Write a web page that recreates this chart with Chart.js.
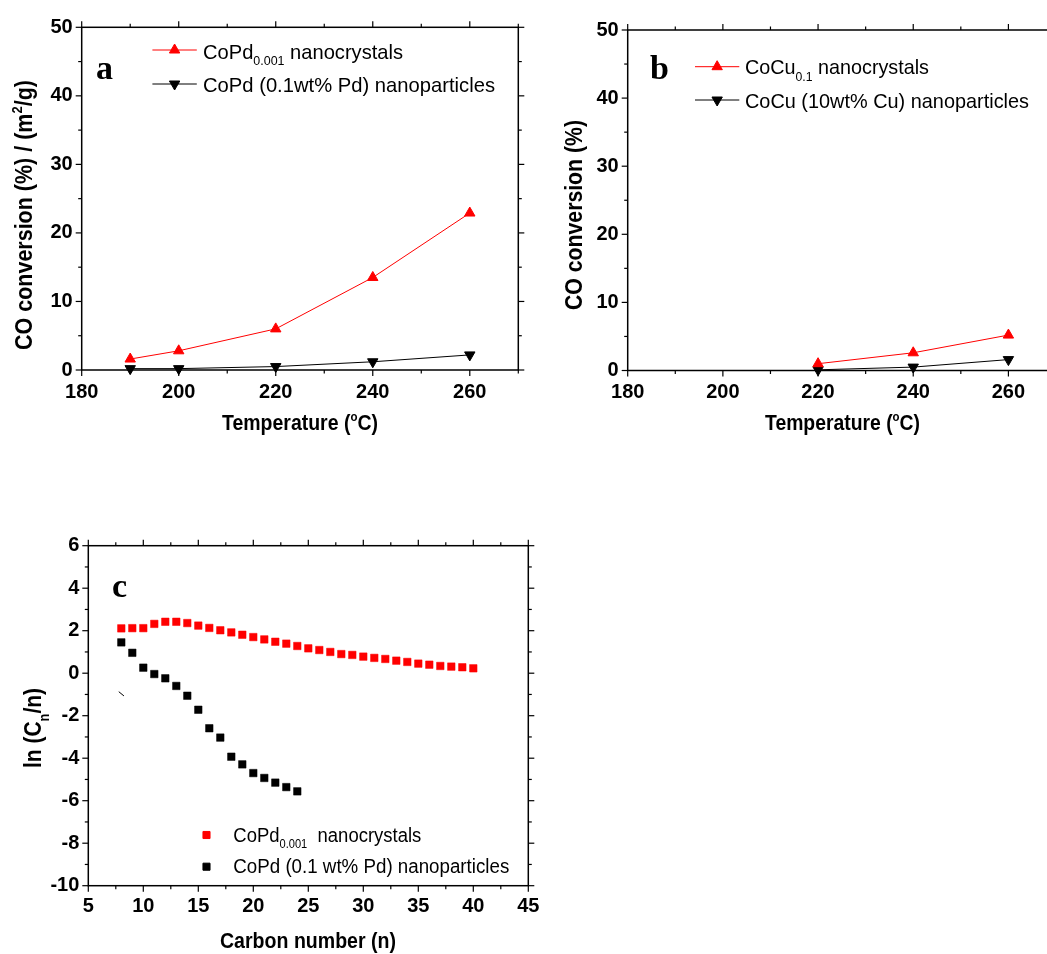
<!DOCTYPE html>
<html>
<head>
<meta charset="utf-8">
<script src="https://cdn.jsdelivr.net/npm/chart.js@4.4.1/dist/chart.umd.min.js"></script>
<style>
  html, body { margin: 0; padding: 0; background: #fff; }
  body { width: 1047px; height: 954px; position: relative; overflow: hidden; }
  canvas { position: absolute; }
  #chartA { left: 0; top: 0; }
  #chartB { left: 540px; top: 0; }
  #chartC { left: 0; top: 500px; }
</style>
</head>
<body>
<canvas id="chartA" width="540" height="450"></canvas>
<canvas id="chartB" width="530" height="450"></canvas>
<canvas id="chartC" width="560" height="454"></canvas>
<script>
// panel a - CoPd, CO conversion per surface area
const tempA = [190, 200, 220, 240, 260];
const copdNanocrystals = [1.6, 2.8, 6.0, 13.5, 22.9];
const copdNanoparticles = [0.2, 0.2, 0.5, 1.2, 2.2];

// panel b - CoCu, CO conversion
const tempB = [220, 240, 260];
const cocuNanocrystals = [1.0, 2.6, 5.2];
const cocuNanoparticles = [0.1, 0.5, 1.6];

// panel c - ASF plot ln(Cn/n) vs carbon number
const carbonNano = [8, 9, 10, 11, 12, 13, 14, 15, 16, 17, 18, 19, 20, 21, 22, 23, 24,
                    25, 26, 27, 28, 29, 30, 31, 32, 33, 34, 35, 36, 37, 38, 39, 40];
const lnNano = [2.11, 2.12, 2.12, 2.32, 2.42, 2.42, 2.36, 2.24, 2.13, 2.02, 1.92, 1.81, 1.70, 1.59, 1.48, 1.39, 1.28,
                1.17, 1.09, 1.00, 0.90, 0.86, 0.78, 0.72, 0.67, 0.59, 0.53, 0.45, 0.40, 0.34, 0.31, 0.28, 0.23];
const carbonPart = [8, 9, 10, 11, 12, 13, 14, 15, 16, 17, 18, 19, 20, 21, 22, 23, 24];
const lnPart = [1.45, 0.96, 0.26, -0.04, -0.24, -0.60, -1.06, -1.72, -2.59, -3.03, -3.93, -4.29, -4.70, -4.93, -5.15, -5.36, -5.56];
// little stray stroke left of the data in panel c
const strayX = [7.77, 8.24];
const strayY = [-0.87, -1.07];

// tick labels
const tempTicks = [180, 200, 220, 240, 260];
const tempMinor = [190, 210, 230, 250, 270];
const convTicks = [0, 10, 20, 30, 40, 50];
const convMinor = [5, 15, 25, 35, 45];
const carbonTicks = [5, 10, 15, 20, 25, 30, 35, 40, 45];
const carbonMinor = [7.5, 12.5, 17.5, 22.5, 27.5, 32.5, 37.5, 42.5];
const lnTicks = [-10, -8, -6, -4, -2, 0, 2, 4, 6];
const lnMinor = [-9, -7, -5, -3, -1, 1, 3, 5];

const SANS = '"Liberation Sans", Arial, sans-serif';
const SERIF = '"Liberation Serif", "Times New Roman", serif';
const RED = '#ff0000';

const toXY = (xs, ys) => xs.map((x, i) => ({ x: x, y: ys[i] }));

// draws text made of parts [text, 0 normal | 1 sub | 2 sup]
function drawRich(ctx, parts, o) {
  ctx.save();
  ctx.translate(o.x, o.y);
  if (o.rotate) ctx.rotate(o.rotate);
  const fontOf = p => `${o.weight || 'normal'} ${p[1] ? Math.round(o.size * 0.6) : o.size}px ${o.family || SANS}`;
  let total = 0;
  const widths = parts.map(p => {
    ctx.font = fontOf(p);
    const w = ctx.measureText(p[0]).width;
    total += w;
    return w;
  });
  const sx = o.width ? o.width / total : 1;
  ctx.scale(sx, 1);
  let cx = o.align === 'center' ? -total / 2 : 0;
  ctx.fillStyle = '#000';
  ctx.textBaseline = 'alphabetic';
  ctx.textAlign = 'left';
  parts.forEach((p, i) => {
    ctx.font = fontOf(p);
    const dy = p[1] === 1 ? o.size * 0.33 : (p[1] === 2 ? -o.size * 0.42 : 0);
    ctx.fillText(p[0], cx, dy);
    cx += widths[i];
  });
  ctx.restore();
}

// box around the plot and the ticks on all four sides, using the chart's own scales
const framePlugin = {
  id: 'frame',
  beforeDatasetsDraw(chart, args, o) {
    const { ctx, chartArea: a, scales: { x, y } } = chart;
    ctx.save();
    ctx.strokeStyle = '#000';
    ctx.lineWidth = 1.5;
    ctx.strokeRect(a.left, a.top, a.right - a.left, a.bottom - a.top);
    ctx.lineWidth = 1.2;
    const seg = (x1, y1, x2, y2) => { ctx.beginPath(); ctx.moveTo(x1, y1); ctx.lineTo(x2, y2); ctx.stroke(); };
    const xt = (vals, len) => vals.forEach(v => {
      const px = x.getPixelForValue(v);
      seg(px, a.bottom, px, a.bottom + len);
      seg(px, a.top, px, a.top - len);
    });
    const yt = (vals, len) => vals.forEach(v => {
      const py = y.getPixelForValue(v);
      seg(a.left, py, a.left - len, py);
      seg(a.right, py, a.right + len, py);
    });
    xt(o.xMajor, 6); xt(o.xMinor, 3.5);
    yt(o.yMajor, 6); yt(o.yMinor, 3.5);
    ctx.restore();
  }
};

// titles, panel letter and the legend
const notesPlugin = {
  id: 'notes',
  afterDraw(chart, args, o) {
    const ctx = chart.ctx;
    (o.samples || []).forEach(s => {
      ctx.save();
      ctx.strokeStyle = s.color;
      ctx.fillStyle = s.color;
      if (s.line) {
        ctx.lineWidth = 1;
        ctx.beginPath(); ctx.moveTo(s.x1, s.y); ctx.lineTo(s.x2, s.y); ctx.stroke();
      }
      ctx.lineWidth = 1;
      Chart.helpers.drawPoint(ctx, { pointStyle: s.style, radius: s.radius, rotation: s.rotation || 0, borderWidth: 1 },
        (s.x1 + s.x2) / 2, s.y);
      ctx.restore();
    });
    (o.texts || []).forEach(t => drawRich(ctx, t.parts, t));
  }
};

function axes(xMin, xMax, xTicks, yMin, yMax, yTicks, yWidth, xHeight, xPad) {
  const tickFont = { family: SANS, size: 20, weight: 'bold' };
  return {
    x: {
      type: 'linear', min: xMin, max: xMax,
      afterBuildTicks: s => { s.ticks = xTicks.map(v => ({ value: v })); },
      afterFit: s => { s.height = xHeight; },
      grid: { display: false, drawTicks: false },
      border: { display: false },
      ticks: { font: tickFont, color: '#000', padding: xPad, autoSkip: false, maxRotation: 0 }
    },
    y: {
      type: 'linear', min: yMin, max: yMax,
      afterBuildTicks: s => { s.ticks = yTicks.map(v => ({ value: v })); },
      afterFit: s => { s.width = yWidth; },
      grid: { display: false, drawTicks: false },
      border: { display: false },
      ticks: { font: tickFont, color: '#000', padding: 9, autoSkip: false }
    }
  };
}

function lineSet(xs, ys, color, rotation) {
  return {
    data: toXY(xs, ys), showLine: true, tension: 0, clip: false,
    borderColor: color, backgroundColor: color, borderWidth: 1,
    pointStyle: 'triangle', pointRotation: rotation, pointRadius: 6, pointBorderWidth: 1
  };
}

function baseOptions() {
  return { responsive: false, animation: false, events: [] };
}

// ---------- panel a ----------
new Chart(document.getElementById('chartA'), {
  type: 'scatter',
  data: {
    datasets: [
      lineSet(tempA, copdNanocrystals, RED, 0),
      lineSet(tempA, copdNanoparticles, '#000', 180)
    ]
  },
  options: Object.assign(baseOptions(), {
    layout: { padding: { left: 0, right: 21.7, top: 27.3, bottom: 0 } },
    scales: axes(180, 270, tempTicks, 0, 50, convTicks, 81.7, 80, 10),
    plugins: {
      legend: { display: false }, tooltip: { enabled: false },
      frame: { xMajor: tempTicks, xMinor: tempMinor, yMajor: convTicks, yMinor: convMinor },
      notes: {
        samples: [
          { x1: 152.4, x2: 196.8, y: 50, color: RED, style: 'triangle', radius: 6, line: true },
          { x1: 152.4, x2: 196.8, y: 84, color: '#000', style: 'triangle', radius: 6, rotation: 180, line: true }
        ],
        texts: [
          { parts: [['CoPd', 0], ['0.001', 1], [' nanocrystals', 0]], x: 203, y: 58.5, size: 21, width: 200 },
          { parts: [['CoPd (0.1wt% Pd) nanoparticles', 0]], x: 203, y: 92, size: 21, width: 292 },
          { parts: [['a', 0]], x: 96, y: 79, size: 34, weight: 'bold', family: SERIF },
          { parts: [['Temperature (', 0], ['o', 2], ['C)', 0]], x: 300, y: 430, size: 22, weight: 'bold', align: 'center', width: 156 },
          { parts: [['CO conversion (%) / (m', 0], ['2', 2], ['/g)', 0]], x: 31.5, y: 215, size: 23, weight: 'bold', align: 'center', width: 270, rotate: -Math.PI / 2 }
        ]
      }
    }
  }),
  plugins: [framePlugin, notesPlugin]
});

// ---------- panel b ----------
new Chart(document.getElementById('chartB'), {
  type: 'scatter',
  data: {
    datasets: [
      lineSet(tempB, cocuNanocrystals, RED, 0),
      lineSet(tempB, cocuNanoparticles, '#000', 180)
    ]
  },
  options: Object.assign(baseOptions(), {
    layout: { padding: { left: 0, right: 14, top: 30, bottom: 0 } },
    scales: axes(180, 270, tempTicks, 0, 50, convTicks, 87.7, 79.5, 10),
    plugins: {
      legend: { display: false }, tooltip: { enabled: false },
      frame: { xMajor: tempTicks, xMinor: tempMinor, yMajor: convTicks, yMinor: convMinor },
      notes: {
        samples: [
          { x1: 155, x2: 199.3, y: 66.7, color: RED, style: 'triangle', radius: 6, line: true },
          { x1: 155, x2: 199.3, y: 100, color: '#000', style: 'triangle', radius: 6, rotation: 180, line: true }
        ],
        texts: [
          { parts: [['CoCu', 0], ['0.1', 1], [' nanocrystals', 0]], x: 205, y: 74, size: 21, width: 184 },
          { parts: [['CoCu (10wt% Cu) nanoparticles', 0]], x: 205, y: 108, size: 21, width: 284 },
          { parts: [['b', 0]], x: 110, y: 79, size: 34, weight: 'bold', family: SERIF },
          { parts: [['Temperature (', 0], ['o', 2], ['C)', 0]], x: 302.5, y: 430, size: 22, weight: 'bold', align: 'center', width: 155 },
          { parts: [['CO conversion (%)', 0]], x: 41.7, y: 215, size: 23, weight: 'bold', align: 'center', width: 190, rotate: -Math.PI / 2 }
        ]
      }
    }
  }),
  plugins: [framePlugin, notesPlugin]
});

// ---------- panel c ----------
function squares(xs, ys, color) {
  return {
    data: toXY(xs, ys), showLine: false, clip: false,
    borderColor: color, backgroundColor: color,
    pointStyle: 'rect', pointRadius: 5.3, pointBorderWidth: 0.5
  };
}

new Chart(document.getElementById('chartC'), {
  type: 'scatter',
  data: {
    datasets: [
      squares(carbonNano, lnNano, RED),
      squares(carbonPart, lnPart, '#000'),
      { data: toXY(strayX, strayY), showLine: true, borderColor: '#000', borderWidth: 1, pointRadius: 0 }
    ]
  },
  options: Object.assign(baseOptions(), {
    layout: { padding: { left: 0, right: 31.7, top: 45.7, bottom: 0 } },
    scales: axes(5, 45, carbonTicks, -10, 6, lnTicks, 88.3, 68.3, 9),
    plugins: {
      legend: { display: false }, tooltip: { enabled: false },
      frame: { xMajor: carbonTicks, xMinor: carbonMinor, yMajor: lnTicks, yMinor: lnMinor },
      notes: {
        samples: [
          { x1: 206.5, x2: 206.5, y: 335, color: RED, style: 'rect', radius: 5 },
          { x1: 206.5, x2: 206.5, y: 366.7, color: '#000', style: 'rect', radius: 5 }
        ],
        texts: [
          { parts: [['CoPd', 0], ['0.001', 1], ['  nanocrystals', 0]], x: 233.3, y: 341.7, size: 20, width: 188 },
          { parts: [['CoPd (0.1 wt% Pd) nanoparticles', 0]], x: 233.3, y: 372.7, size: 20, width: 276 },
          { parts: [['c', 0]], x: 112, y: 97, size: 34, weight: 'bold', family: SERIF },
          { parts: [['Carbon number (n)', 0]], x: 308, y: 448.3, size: 22, weight: 'bold', align: 'center', width: 176 },
          { parts: [['ln (C', 0], ['n', 1], ['/n)', 0]], x: 41, y: 228, size: 23, weight: 'bold', align: 'center', width: 80, rotate: -Math.PI / 2 }
        ]
      }
    }
  }),
  plugins: [framePlugin, notesPlugin]
});
</script>
</body>
</html>
